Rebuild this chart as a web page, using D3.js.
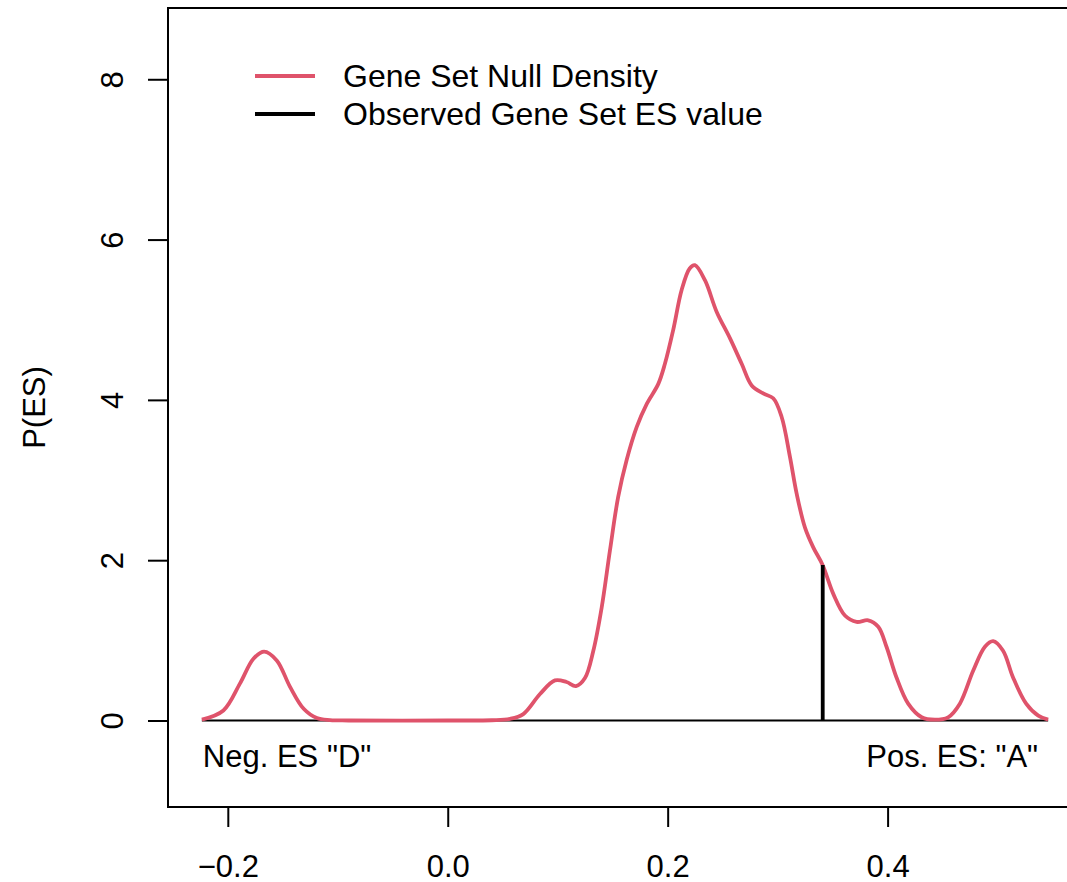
<!DOCTYPE html>
<html>
<head>
<meta charset="utf-8">
<script src="https://cdn.jsdelivr.net/npm/d3@7"></script>
<style>
  body { margin: 0; background: #fff; }
  text { font-family: "Liberation Sans", Arial, sans-serif; fill: #000; }
</style>
</head>
<body>
<div id="chart"></div>
<script>
// null ES density
const esGrid = [-0.2236, -0.204, -0.189, -0.1767, -0.167, -0.1555, -0.1434, -0.131, -0.119, -0.107, -0.09,
  0.0, 0.04, 0.0566, 0.0687, 0.0839, 0.0975, 0.108, 0.1166, 0.1248, 0.1324, 0.14, 0.1475, 0.155, 0.1627,
  0.1718, 0.181, 0.1915, 0.1975, 0.205, 0.2127, 0.22, 0.2248, 0.234, 0.2445, 0.2566, 0.2673, 0.2764,
  0.2869, 0.296, 0.3036, 0.3112, 0.3173, 0.3248, 0.3324, 0.3409, 0.3506, 0.3612, 0.3718, 0.3824, 0.3915,
  0.399, 0.408, 0.4187, 0.431, 0.443, 0.455, 0.4657, 0.4778, 0.4885, 0.496, 0.505, 0.514, 0.526, 0.537, 0.546]
const nullDensity = [0.01, 0.125, 0.46, 0.77, 0.86, 0.75, 0.42, 0.146, 0.03, 0.005, 0,
  0, 0.003, 0.02, 0.08, 0.33, 0.50, 0.48, 0.43, 0.53, 0.87, 1.41, 2.12, 2.79, 3.25,
  3.66, 3.95, 4.2, 4.45, 4.87, 5.37, 5.64, 5.68, 5.49, 5.1, 4.77, 4.45, 4.18,
  4.08, 4.02, 3.79, 3.29, 2.83, 2.41, 2.16, 1.94, 1.58, 1.31, 1.23, 1.25, 1.17,
  0.92, 0.54, 0.21, 0.04, 0.01, 0.04, 0.21, 0.62, 0.92, 0.99, 0.87, 0.54, 0.21, 0.06, 0.01]
const observedES = 0.341
const observedDensity = 1.94
const xTicks = [-0.2, 0.0, 0.2, 0.4]
const yTicks = [0, 2, 4, 6, 8]
const legendLabels = ['Gene Set Null Density', 'Observed Gene Set ES value']
const legendColors = ['#DF536B', '#000000']

const width = 1067
const height = 882
const margin = {top: 8, left: 168, bottom: 75}
const FONT_SIZE = 31

// R-style 4% padding of the ranges
const pad = (lo, hi) => [lo - (hi - lo) * 0.04, hi + (hi - lo) * 0.04]
const xLim = pad(d3.min(esGrid), d3.max(esGrid))
const yMax = d3.max(nullDensity)
const yLim = pad(-yMax / 8, yMax * 1.5)

const plotRight = margin.left + 914
const xScale = d3.scaleLinear().domain(xLim).range([margin.left, plotRight])
const yScale = d3.scaleLinear().domain(yLim).range([height - margin.bottom, margin.top])

const svg = d3.select('#chart').append('svg')
  .attr('width', width).attr('height', height)

// box (right side falls off the page)
svg.append('rect')
  .attr('x', margin.left).attr('y', margin.top)
  .attr('width', plotRight - margin.left).attr('height', height - margin.bottom - margin.top)
  .attr('fill', 'none').attr('stroke', '#000').attr('stroke-width', 2)

const fmt = d3.format('.1f')
svg.append('g')
  .attr('transform', `translate(0, ${height - margin.bottom})`)
  .call(d3.axisBottom(xScale).tickValues(xTicks).tickFormat(fmt).tickSize(20).tickPadding(0))
  .call(g => {
    g.select('.domain').remove()
    g.selectAll('line').attr('stroke-width', 2)
    g.selectAll('text').attr('font-size', FONT_SIZE).attr('dy', null).attr('y', 70)
  })

svg.append('g')
  .attr('transform', `translate(${margin.left}, 0)`)
  .call(d3.axisLeft(yScale).tickValues(yTicks).tickFormat(d3.format('d')).tickSize(20))
  .call(g => {
    g.select('.domain').remove()
    g.selectAll('line').attr('stroke-width', 2)
    g.selectAll('text')
      .attr('font-size', FONT_SIZE)
      .attr('x', null).attr('dy', null).attr('y', null)
      .attr('text-anchor', 'middle')
      .attr('transform', 'translate(-45, 0) rotate(-90)')
  })

svg.append('text')
  .text('P(ES)')
  .attr('font-size', FONT_SIZE)
  .attr('text-anchor', 'middle')
  .attr('transform', `translate(45, ${(margin.top + height - margin.bottom) / 2}) rotate(-90)`)

const pts = esGrid.map((v, i) => [v, nullDensity[i]])

// zero line under the density
svg.append('line')
  .attr('x1', xScale(d3.min(esGrid))).attr('x2', xScale(d3.max(esGrid)))
  .attr('y1', yScale(0)).attr('y2', yScale(0))
  .attr('stroke', '#000').attr('stroke-width', 2)

const line = d3.line()
  .x(d => xScale(d[0]))
  .y(d => yScale(d[1]))
  .curve(d3.curveCatmullRom.alpha(0.5))

svg.append('path')
  .attr('d', line(pts))
  .attr('fill', 'none')
  .attr('stroke', legendColors[0])
  .attr('stroke-width', 3.8)
  .attr('stroke-linejoin', 'round')

svg.append('line')
  .attr('x1', xScale(observedES)).attr('x2', xScale(observedES))
  .attr('y1', yScale(0)).attr('y2', yScale(observedDensity))
  .attr('stroke', '#000').attr('stroke-width', 3.8)

svg.append('text')
  .text('Neg. ES "D"')
  .attr('font-size', FONT_SIZE)
  .attr('x', xScale(d3.min(esGrid)) + 1).attr('y', yScale(0) + 47)

svg.append('text')
  .text('Pos. ES: "A"')
  .attr('font-size', FONT_SIZE)
  .attr('text-anchor', 'end')
  .attr('x', xScale(d3.max(esGrid)) - 10).attr('y', yScale(0) + 47)

// legend, no box
const legend = svg.selectAll('g.legend')
  .data(legendLabels)
  .enter()
  .append('g')
  .classed('legend', true)
  .attr('transform', (d, i) => `translate(255, ${76 + i * 38})`)

legend.append('line')
  .attr('x1', 0).attr('x2', 60)
  .attr('stroke', (d, i) => legendColors[i]).attr('stroke-width', 3.8)

legend.append('text')
  .text(d => d)
  .attr('font-size', 32)
  .attr('x', 88).attr('dy', '0.35em')
</script>
</body>
</html>
